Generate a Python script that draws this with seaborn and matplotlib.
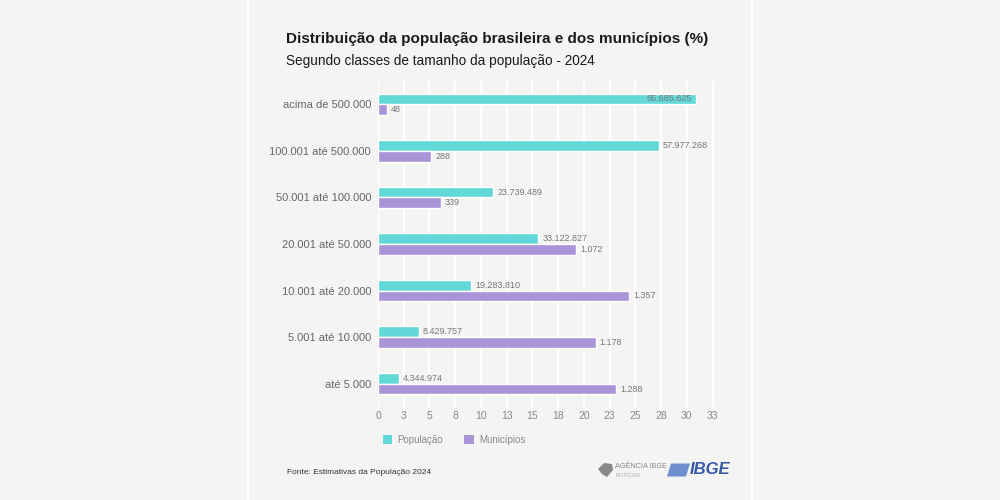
import matplotlib
matplotlib.use("Agg")
import matplotlib.pyplot as plt
from matplotlib.patches import Patch, Rectangle, Polygon
import seaborn as sns
import pandas as pd

# dados (IBGE, estimativas 2024)
faixas = ["acima de 500.000", "100.001 até 500.000", "50.001 até 100.000",
          "20.001 até 50.000", "10.001 até 20.000", "5.001 até 10.000", "até 5.000"]
pop_pct = [30.90, 27.27, 11.17, 15.58, 9.07, 3.97, 2.04]
mun_pct = [0.86, 5.17, 6.09, 19.25, 24.36, 21.15, 23.12]
pop_rotulos = ["65.685.625", "57.977.268", "23.739.489", "33.122.827",
               "19.283.810", "8.429.757", "4.344.974"]
mun_rotulos = ["48", "288", "339", "1.072", "1.357", "1.178", "1.288"]
ticks = [0, 2.5, 5, 7.5, 10, 12.5, 15, 17.5, 20, 22.5, 25, 27.5, 30, 32.5]
tick_rotulos = ["0", "3", "5", "8", "10", "13", "15", "18", "20", "23", "25", "28", "30", "33"]
series = ["População", "Municípios"]

cores = ["#62d8d8", "#a994d8"]
fundo = "#f4f4f3"

df = pd.DataFrame({
    "faixa": faixas * 2,
    "serie": [series[0]] * len(faixas) + [series[1]] * len(faixas),
    "pct": pop_pct + mun_pct,
})

sns.set_theme(style="white")
plt.rcParams["font.family"] = ["Liberation Sans", "DejaVu Sans"]

fig = plt.figure(figsize=(10, 5), dpi=100)
fig.patch.set_facecolor("#f5f5f5")

# painel central (atrás dos eixos)
fig.patches.append(Rectangle((0.248, 0), 0.504, 1, transform=fig.transFigure,
                             facecolor=fundo, edgecolor="none", zorder=-10))
for xl in (0.248, 0.752):
    fig.lines.append(plt.Line2D([xl, xl], [0, 1], transform=fig.transFigure,
                                color="white", lw=1.5, zorder=-9))

ax = fig.add_axes([0.378, 0.186, 0.352, 0.652])
ax.set_facecolor(fundo)
ax.set_zorder(1)

sns.barplot(data=df, y="faixa", x="pct", hue="serie", orient="h",
            palette=cores, width=0.46, ax=ax, legend=False, saturation=1,
            order=faixas, hue_order=series)

ax.set_xlim(0, 34.2)
ax.set_xticks(ticks)
ax.set_xticklabels(tick_rotulos, fontsize=7.5, color="#888888")
ax.tick_params(axis="x", length=0, pad=3)
ax.tick_params(axis="y", length=0, pad=5)
ax.set_yticks(range(len(faixas)))
ax.set_yticklabels(faixas, fontsize=8, color="#666666")
ax.set_xlabel("")
ax.set_ylabel("")
ax.grid(axis="x", color="white", lw=1.6)
ax.set_axisbelow(True)
for s in ax.spines.values():
    s.set_visible(False)

# rótulos de valores
for i, barra in enumerate(ax.containers[0]):
    w = barra.get_width()
    yc = barra.get_y() + barra.get_height() / 2
    if w > 29:
        ax.text(w - 0.4, yc, pop_rotulos[i], ha="right", va="center",
                fontsize=6.5, color="#777777")
    else:
        ax.text(w + 0.4, yc, pop_rotulos[i], ha="left", va="center",
                fontsize=6.5, color="#777777")
for i, barra in enumerate(ax.containers[1]):
    w = barra.get_width()
    yc = barra.get_y() + barra.get_height() / 2
    ax.text(w + 0.4, yc, mun_rotulos[i], ha="left", va="center",
            fontsize=6.5, color="#777777")

# títulos
fig.text(0.286, 0.921, "Distribuição da população brasileira e dos municípios (%)",
         fontsize=11, fontweight="bold", color="#1a1a1a", ha="left", va="center")
fig.text(0.286, 0.879, "Segundo classes de tamanho da população - 2024",
         fontsize=9.8, color="#1a1a1a", ha="left", va="center")

# legenda
handles = [Patch(facecolor=c, edgecolor="none") for c in cores]
fig.legend(handles, series, loc="center left", bbox_to_anchor=(0.374, 0.12),
           ncol=2, frameon=False, handlelength=1.0, handleheight=1.0,
           columnspacing=2.2, handletextpad=0.5, labelcolor="#888888",
           prop={"size": 7})

# rodapé
fig.text(0.287, 0.055, "Fonte: Estimativas da População 2024",
         fontsize=6, color="#333333", ha="left", va="center")
fig.patches.append(Polygon([[0.598, 0.062], [0.604, 0.074], [0.612, 0.072], [0.613, 0.060],
                            [0.607, 0.046], [0.602, 0.052]],
                           closed=True, transform=fig.transFigure,
                           facecolor="#8a8a8a", edgecolor="none"))
fig.text(0.615, 0.066, "AGÊNCIA IBGE", fontsize=5.2, color="#888888",
         ha="left", va="center")
fig.text(0.616, 0.049, "NOTÍCIAS", fontsize=3.8, color="#aaaaaa",
         ha="left", va="center")
fig.patches.append(Polygon([[0.667, 0.047], [0.686, 0.047], [0.690, 0.073], [0.671, 0.073]],
                           closed=True, transform=fig.transFigure,
                           facecolor="#6f8fd0", edgecolor="none"))
fig.text(0.690, 0.06, "IBGE", fontsize=12, fontweight="bold", fontstyle="italic",
         color="#3557a8", ha="left", va="center")

fig.savefig("out.png", dpi=100, facecolor=fig.get_facecolor())
